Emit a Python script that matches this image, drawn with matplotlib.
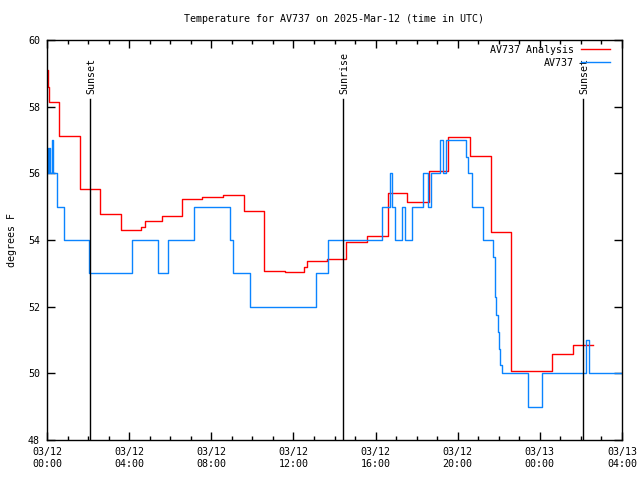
import matplotlib
matplotlib.use("Agg")
import matplotlib.pyplot as plt
import matplotlib.transforms as mtransforms

plt.rcParams['font.family'] = ['DejaVu Sans Mono']
FS = 7.2

# Hours since 03/12 00:00 UTC
analysis_t = [0.0, 0.06, 0.1, 0.6, 1.61, 2.6, 3.6, 4.58, 4.77, 5.6, 6.57, 7.57, 8.58,
              9.6, 10.57, 11.59, 12.51, 12.66, 13.62, 14.56, 15.58, 16.6, 17.55, 18.6,
              19.55, 20.6, 21.62, 22.6, 24.6, 25.59, 26.57]
analysis_v = [59.1, 58.6, 58.14, 57.11, 55.53, 54.78, 54.29, 54.4, 54.56, 54.72, 55.22,
              55.28, 55.36, 54.86, 53.07, 53.04, 53.2, 53.36, 53.42, 53.94, 54.11, 55.41,
              55.14, 56.06, 57.09, 56.52, 54.24, 50.06, 50.57, 50.84, 50.84]

obs_t = [0.0, 0.04, 0.1, 0.17, 0.23, 0.27, 0.5, 0.84, 2.05, 4.16, 5.4, 5.9, 7.14, 8.9,
         9.05, 9.9, 13.1, 13.7, 16.3, 16.7, 16.8, 16.95, 17.3, 17.45, 17.75, 18.3, 18.55,
         18.7, 19.15, 19.3, 19.45, 20.4, 20.5, 20.7, 21.25, 21.7, 21.8, 21.86, 21.94,
         22.0, 22.08, 22.14, 23.4, 24.1, 26.25, 26.4, 28.0]
obs_v = [56.75, 56.0, 56.75, 56.0, 57.0, 56.0, 55.0, 54.0, 53.0, 54.0, 53.0, 54.0, 55.0,
         54.0, 53.0, 52.0, 53.0, 54.0, 55.0, 56.0, 55.0, 54.0, 55.0, 54.0, 55.0, 56.0,
         55.0, 56.0, 57.0, 56.0, 57.0, 56.5, 56.0, 55.0, 54.0, 53.5, 52.3, 51.75, 51.23,
         50.73, 50.26, 50.0, 49.0, 50.0, 51.0, 50.0, 50.0]

event_t = [2.09, 14.41, 26.1]
event_labels = ["Sunset", "Sunrise", "Sunset"]

xtick_pos = [0, 4, 8, 12, 16, 20, 24, 28]
xtick_labels = ["03/12\n00:00", "03/12\n04:00", "03/12\n08:00", "03/12\n12:00",
                "03/12\n16:00", "03/12\n20:00", "03/13\n00:00", "03/13\n04:00"]
ytick_pos = [48, 50, 52, 54, 56, 58, 60]

fig = plt.figure(figsize=(6.4, 4.8), dpi=100)
ax = fig.add_axes([47/640, 40/480, 575/640, 400/480])

ax.plot(analysis_t, analysis_v, drawstyle='steps-post', color='#ff0000', lw=1.0,
        label='AV737 Analysis')
ax.plot(obs_t, obs_v, drawstyle='steps-post', color='#0a84ff', lw=1.0, label='AV737')

trans = mtransforms.blended_transform_factory(ax.transData, ax.transAxes)
for t, lab in zip(event_t, event_labels):
    ax.plot([t, t], [0, 0.8525], color='black', lw=1.0, transform=trans)
    ax.text(t + 0.08, 0.866, lab, rotation=90, ha='center', va='bottom',
            transform=trans, fontsize=FS)

ax.set_xlim(0, 28)
ax.set_ylim(48, 60)
ax.set_xticks(xtick_pos)
ax.set_xticklabels(xtick_labels, fontsize=FS)
ax.set_xticks(range(0, 29), minor=True)
ax.set_yticks(ytick_pos)
ax.set_yticklabels([str(v) for v in ytick_pos], fontsize=FS)
ax.tick_params(which='both', direction='in', top=True, right=True, width=1)
ax.tick_params(which='major', length=6, pad=5)
ax.tick_params(which='minor', length=3)
for s in ax.spines.values():
    s.set_linewidth(1)

ax.set_ylabel('degrees F', fontsize=FS, labelpad=8)
ax.set_title('Temperature for AV737 on 2025-Mar-12 (time in UTC)', fontsize=FS, pad=13)

leg = ax.legend(loc='upper right', bbox_to_anchor=(0.979, 0.9875), frameon=False,
                markerfirst=False, fontsize=FS, handlelength=2.9, borderaxespad=0,
                borderpad=0, labelspacing=0.3, handletextpad=0.7)
for txt in leg.get_texts():
    txt.set_ha('right')

fig.savefig('out.png', dpi=100)
